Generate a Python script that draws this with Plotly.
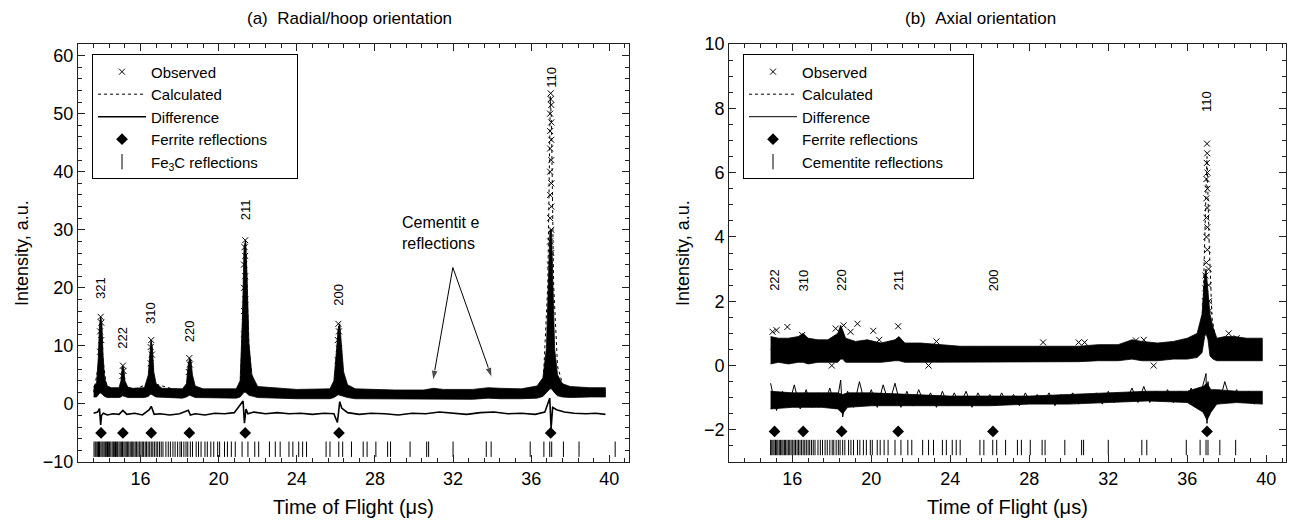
import plotly.graph_objects as go

FONT = "Arial, Liberation Sans, sans-serif"

# ---------------- Panel (a): radial/hoop orientation ----------------
band_x_a = [13.6, 13.75, 13.84, 13.9, 13.96, 14.02, 14.08, 14.16, 14.3, 14.5,
            14.9, 15.0, 15.07, 15.13, 15.2, 15.35, 15.6, 16.2, 16.4, 16.48,
            16.54, 16.6, 16.68, 16.8, 17.1, 18.15, 18.35, 18.45, 18.52, 18.58,
            18.66, 18.8, 19.2, 20.9, 21.1, 21.22, 21.3, 21.38, 21.45, 21.55,
            21.7, 22.0, 24.0, 25.7, 25.9, 26.04, 26.12, 26.2, 26.28, 26.4,
            26.6, 27.0, 29.0, 30.5, 31.0, 31.5, 33.0, 33.8, 34.4, 35.5,
            36.3, 36.6, 36.78, 36.9, 36.96, 37.04, 37.1, 37.2, 37.35, 37.6,
            38.0, 39.0, 39.8]
band_hi_a = [3.0, 3.6, 8.0, 13.5, 15.0, 14.0, 8.5, 4.5, 3.1, 2.8,
             2.8, 4.0, 6.5, 6.3, 4.0, 2.9, 2.7, 2.8, 5.0, 9.5,
             11.0, 10.0, 5.5, 3.5, 2.7, 2.6, 3.5, 7.0, 7.9, 7.5,
             5.0, 3.1, 2.6, 2.6, 4.0, 15.0, 27.0, 28.2, 22.5, 10.5,
             5.0, 3.0, 2.5, 2.6, 4.0, 9.5, 13.0, 13.8, 11.0, 5.5,
             3.3, 2.6, 2.4, 2.4, 2.7, 2.5, 2.5, 2.8, 2.7, 2.6,
             3.1, 4.5, 9.5, 24.0, 30.0, 30.0, 20.0, 9.5, 5.0, 3.5,
             3.0, 2.8, 2.8]
band_lo_a = [1.2, 1.2, 1.5, 1.8, 1.9, 1.8, 1.6, 1.3, 1.1, 1.1,
             1.1, 1.2, 1.4, 1.4, 1.3, 1.1, 1.1, 1.1, 1.3, 1.6,
             1.7, 1.6, 1.4, 1.2, 1.1, 1.0, 1.2, 1.4, 1.5, 1.4,
             1.3, 1.1, 1.0, 1.0, 1.2, 1.6, 2.0, 2.0, 1.8, 1.5,
             1.3, 1.1, 0.9, 0.9, 1.1, 1.4, 1.6, 1.6, 1.5, 1.3,
             1.1, 0.9, 0.8, 0.8, 0.9, 0.8, 0.8, 1.0, 0.9, 0.9,
             1.0, 1.3, 1.9, 2.4, 2.6, 2.6, 2.4, 1.9, 1.4, 1.2,
             1.1, 1.2, 1.2]

obs_x_a = [13.93, 13.99, 13.93, 13.99, 13.96,
           15.07, 15.13, 15.1,
           16.52, 16.58, 16.52, 16.55,
           18.47, 18.53, 18.5,
           21.3, 21.36, 21.3, 21.36, 21.3, 21.36, 21.3, 21.36, 21.33, 21.36,
           26.1, 26.16, 26.1, 26.16, 26.13,
           36.97, 37.03, 36.97, 37.03, 36.97, 37.03, 36.97, 37.03, 36.97,
           37.03, 36.97, 37.03, 36.97, 37.03, 36.97, 37.03, 37.0, 37.0]
obs_y_a = [9.0, 11.0, 12.5, 14.0, 15.0,
           4.8, 5.7, 6.6,
           7.0, 8.5, 9.8, 11.0,
           5.5, 6.8, 7.9,
           12.0, 14.0, 16.0, 18.0, 20.0, 22.0, 24.0, 25.5, 27.0, 28.2,
           7.5, 9.5, 11.0, 12.5, 13.8,
           24.0, 26.0, 28.0, 30.0, 32.0, 34.0, 36.0, 38.0, 40.0,
           42.0, 44.0, 45.5, 47.0, 48.5, 50.0, 51.5, 52.5, 53.5]

calc_x_a = [13.6, 13.84, 13.96, 14.08, 14.3, 14.95, 15.1, 15.25, 16.4, 16.54,
            16.7, 18.35, 18.52, 18.7, 21.1, 21.3, 21.38, 21.55, 21.8, 25.9,
            26.15, 26.35, 26.7, 36.6, 36.85, 36.98, 37.04, 37.15, 37.35, 37.7,
            39.8]
calc_y_a = [2.0, 6.5, 14.7, 7.5, 2.0, 1.9, 6.3, 1.9, 3.5, 10.8,
            3.5, 1.9, 7.7, 2.2, 2.2, 20.5, 27.9, 9.5, 1.9, 2.2,
            13.4, 4.5, 1.7, 2.5, 20.5, 53.0, 48.5, 20.5, 6.5, 2.3,
            2.0]

diff_x_a = [13.6, 13.8, 13.9, 13.96, 14.0, 14.1, 14.3, 14.6, 14.9, 15.1,
            15.3, 15.7, 16.1, 16.45, 16.55, 16.7, 17.0, 17.5, 18.0, 18.45,
            18.55, 18.8, 19.3, 19.8, 20.3, 20.8, 21.25, 21.32, 21.4, 21.5,
            21.8, 22.4, 23.0, 23.6, 24.2, 24.8, 25.4, 25.9, 26.08, 26.2,
            26.3, 26.6, 27.2, 27.8, 28.5, 29.2, 29.9, 30.6, 31.3, 32.0,
            32.7, 33.4, 34.1, 34.8, 35.5, 36.2, 36.7, 36.95, 37.02, 37.1,
            37.3, 37.7, 38.2, 38.8, 39.3, 39.8]
diff_y_a = [-1.6, -1.4, -0.8, -3.6, -2.0, -1.6, -1.9, -1.7, -1.8, -1.1,
            -1.8, -1.6, -1.9, -1.0, -0.4, -1.8, -1.7, -1.9, -1.7, -1.1,
            -1.9, -1.7, -1.9, -1.6, -1.7, -1.5, 0.5, -3.3, -0.9, -1.7,
            -1.4, -1.7, -1.5, -1.7, -1.6, -1.8, -1.6, -1.7, -3.2, 0.4,
            -0.7, -1.5, -1.8, -1.6, -1.7, -1.9, -1.6, -1.7, -1.4, -1.6,
            -1.8, -1.5, -1.4, -1.7, -1.6, -1.8, -1.4, 1.0, -4.2, -0.6,
            -1.0, -1.4, -1.6, -1.7, -1.6, -1.8]

ferrite_x_a = [13.98, 15.1, 16.55, 18.5, 21.36, 26.16, 37.0]
ferrite_y_a = [-5.0, -5.0, -5.0, -5.0, -5.0, -5.0, -5.0]
ferrite_hkl_a = ["321", "222", "310", "220", "211", "200", "110"]
hkl_label_y_a = [20.0, 11.4, 15.7, 12.6, 33.4, 18.8, 56.3]

# Fe3C (cementite) reflection positions, shared by both panels
fe3c_pos = [13.62, 13.68, 13.73, 13.79, 13.85, 13.9, 13.97, 14.03, 14.08, 14.14,
            14.2, 14.25, 14.31, 14.37, 14.42, 14.48, 14.55, 14.61, 14.66, 14.72,
            14.78, 14.83, 14.9, 14.96, 15.02, 15.08, 15.15, 15.21, 15.27, 15.34,
            15.4, 15.47, 15.53, 15.6, 15.66, 15.73, 15.8, 15.87, 15.94, 16.02,
            16.09, 16.16, 16.24, 16.31, 16.39, 16.47, 16.55, 16.63, 16.71, 16.8,
            16.88, 16.97, 17.06, 17.15, 17.3, 17.42, 17.53, 17.66, 17.77, 17.9,
            18.02, 18.1, 18.22, 18.33, 18.42, 18.55, 18.66, 18.85, 18.97, 19.1,
            19.3, 19.42, 19.6, 19.75, 19.95, 20.05, 20.3, 20.45, 20.65, 20.85,
            21.2, 21.5, 21.85, 22.05, 22.6, 22.9, 23.15, 23.6, 23.8, 24.1,
            24.3, 24.5, 25.5, 25.7, 26.15, 26.35, 26.8, 27.4, 27.6, 28.05,
            28.65, 28.8, 29.8, 30.65, 30.75, 32.0, 33.7, 33.95, 35.95, 36.65,
            36.95, 37.05, 37.65, 38.45, 40.3]
fe3c_level_a = -7.8

# call-out in panel (a): text anchor, arrow tail and the two arrow tips
callout_text_a = (29.3, 29.5)
callout_tail_a = (31.99, 23.5)
callout_tips_a = [(30.97, 4.0), (33.99, 4.5)]

# ---------------- Panel (b): axial orientation ----------------
band_x_b = [14.9, 15.3, 15.8, 16.3, 16.55, 16.8, 17.3, 17.8, 18.3, 18.45,
            18.55, 18.7, 19.2, 19.8, 20.5, 21.2, 21.4, 21.7, 22.5, 23.5,
            24.5, 25.5, 26.5, 27.5, 28.5, 29.5, 30.5, 31.5, 32.5, 33.2,
            33.7, 34.5, 35.3, 36.0, 36.5, 36.75, 36.88, 36.95, 37.05, 37.15,
            37.3, 37.5, 37.9, 38.4, 39.0, 39.8]
band_hi_b = [0.9, 0.85, 0.85, 0.9, 1.0, 0.85, 0.8, 0.8, 1.0, 1.25,
             1.1, 0.85, 0.75, 0.8, 0.7, 0.8, 0.9, 0.7, 0.7, 0.65,
             0.6, 0.6, 0.6, 0.6, 0.6, 0.6, 0.6, 0.65, 0.65, 0.8,
             0.75, 0.7, 0.75, 0.85, 1.0, 1.6, 2.8, 3.0, 2.2, 1.6,
             1.2, 0.85, 0.9, 0.9, 0.85, 0.85]
band_lo_b = [0.05, 0.1, 0.05, 0.1, 0.1, 0.05, 0.1, 0.1, 0.1, 0.2,
             0.2, 0.1, 0.1, 0.1, 0.1, 0.15, 0.15, 0.1, 0.1, 0.1,
             0.12, 0.12, 0.12, 0.12, 0.12, 0.12, 0.12, 0.15, 0.15, 0.2,
             0.15, 0.15, 0.2, 0.2, 0.25, 0.4, 0.9, 1.0, 0.8, 0.3,
             0.2, 0.15, 0.15, 0.15, 0.15, 0.15]

obs_x_b = [36.97, 37.02, 36.97, 37.02, 36.97, 37.02, 36.97, 37.02, 36.97, 37.02,
           36.99, 37.01, 37.0, 37.08, 37.08, 37.1, 37.12, 36.9, 36.91, 36.92,
           15.0, 15.2, 15.75, 16.5, 18.2, 18.6, 18.95, 19.3, 20.1, 21.36,
           20.4, 23.3, 28.7, 30.5, 30.8, 33.4, 33.8, 38.1, 38.5, 34.3,
           22.9, 18.0]
obs_y_b = [3.2, 3.6, 4.0, 4.3, 4.6, 4.9, 5.2, 5.5, 5.8, 6.0,
           6.3, 6.6, 6.9, 3.0, 2.5, 2.0, 1.7, 2.0, 2.4, 2.8,
           1.05, 1.1, 1.2, 0.95, 1.15, 1.25, 1.05, 1.3, 1.08, 1.22,
           0.8, 0.75, 0.72, 0.72, 0.72, 0.78, 0.8, 1.0, 0.85, 0.0,
           0.0, 0.0]

calc_x_b = [14.9, 18.5, 21.36, 26.0, 30.0, 34.0, 36.5, 36.8, 36.95, 37.0,
            37.1, 37.25, 37.5, 39.8]
calc_y_b = [0.5, 0.6, 0.5, 0.4, 0.35, 0.45, 0.55, 1.8, 5.5, 6.5,
            4.0, 1.5, 0.6, 0.5]

diffband_x_b = [14.9, 16.0, 17.5, 18.3, 18.55, 18.8, 20.0, 22.0, 24.0, 26.0,
                28.0, 30.0, 32.0, 34.0, 36.0, 36.8, 37.0, 37.2, 37.5, 38.5,
                39.8]
diffband_lo_b = [-1.35, -1.3, -1.3, -1.35, -1.5, -1.3, -1.25, -1.25, -1.25, -1.25,
                 -1.2, -1.2, -1.15, -1.1, -1.15, -1.45, -1.7, -1.45, -1.2, -1.15,
                 -1.2]
diffband_hi_b = [-0.8, -0.85, -0.85, -0.85, -0.9, -0.85, -0.85, -0.9, -0.95, -0.95,
                 -0.95, -0.9, -0.85, -0.8, -0.8, -0.65, -0.55, -0.75, -0.75, -0.8,
                 -0.8]

diff_x_b = [14.9, 15.2, 15.5, 15.8, 16.1, 16.4, 16.7, 17.0, 17.3, 17.6,
            17.9, 18.2, 18.45, 18.55, 18.8, 19.1, 19.4, 19.7, 20.0, 20.3,
            20.6, 20.9, 21.2, 21.5, 21.8, 22.1, 22.4, 22.7, 23.0, 23.3,
            23.6, 23.9, 24.2, 24.5, 24.8, 25.1, 25.4, 25.7, 26.0, 26.3,
            26.6, 26.9, 27.2, 27.5, 27.8, 28.1, 28.4, 28.7, 29.0, 29.3,
            29.6, 29.9, 30.2, 30.5, 30.8, 31.1, 31.4, 31.7, 32.0, 32.3,
            32.6, 32.9, 33.2, 33.5, 33.8, 34.1, 34.4, 34.7, 35.0, 35.3,
            35.6, 35.9, 36.2, 36.5, 36.8, 36.95, 37.0, 37.05, 37.15, 37.3,
            37.6, 37.9, 38.2, 38.5, 38.8, 39.1, 39.4, 39.7]
diff_y_b = [-0.55, -1.4, -0.8, -1.3, -0.6, -1.35, -0.75, -1.3, -0.85, -1.25,
            -0.7, -1.35, -0.45, -1.6, -0.8, -1.3, -0.5, -1.25, -0.75, -1.3,
            -0.6, -1.2, -0.55, -1.3, -0.8, -1.25, -0.75, -1.2, -0.85, -1.3,
            -0.8, -1.25, -0.85, -1.2, -0.8, -1.3, -0.85, -1.2, -0.9, -1.25,
            -0.85, -1.2, -0.9, -1.25, -0.85, -1.2, -0.9, -1.2, -0.85, -1.25,
            -0.9, -1.15, -0.85, -1.2, -0.9, -1.15, -0.85, -1.2, -0.8, -1.15,
            -0.85, -1.1, -0.7, -1.15, -0.65, -1.15, -0.8, -1.1, -0.75, -1.15,
            -0.8, -1.1, -0.7, -1.2, -0.6, -0.25, -1.8, -0.5, -1.4, -0.8,
            -1.2, -0.5, -1.1, -0.75, -1.15, -0.8, -1.2, -0.85]

ferrite_x_b = [15.1, 16.55, 18.5, 21.36, 26.16, 37.0]
ferrite_y_b = [-2.05, -2.05, -2.05, -2.05, -2.05, -2.05]
ferrite_hkl_b = ["222", "310", "220", "211", "200", "110"]
hkl_label_y_b = [2.65, 2.65, 2.65, 2.65, 2.65, 8.2]
fe3c_level_b = -2.55
data_range_b = (14.85, 39.9)

# ---------------- Figure ----------------
fig = go.Figure()
BLACK = "black"
PAD = "\u00a0" * 6


def add_panel(xa, ya, leg, band_x, band_lo, band_hi, ox, oy, cx, cy, dx, dy,
              fx, fy, tx, ty, tick_label, diff_width, extra_band=None):
    fig.add_trace(go.Scatter(
        x=band_x + band_x[::-1], y=band_hi + band_lo[::-1], fill="toself",
        fillcolor=BLACK, line=dict(color=BLACK, width=0.8), mode="lines",
        showlegend=False, hoverinfo="skip", xaxis=xa, yaxis=ya))
    fig.add_trace(go.Scatter(
        x=ox, y=oy, mode="markers", name="Observed", legend=leg,
        marker=dict(symbol="x-thin", size=6, color=BLACK,
                    line=dict(color=BLACK, width=1)),
        xaxis=xa, yaxis=ya))
    fig.add_trace(go.Scatter(
        x=cx, y=cy, mode="lines", name="Calculated", legend=leg,
        line=dict(color=BLACK, width=1, dash="dot"), xaxis=xa, yaxis=ya))
    if extra_band is not None:
        bx, blo, bhi = extra_band
        fig.add_trace(go.Scatter(
            x=bx + bx[::-1], y=bhi + blo[::-1], fill="toself",
            fillcolor=BLACK, line=dict(color=BLACK, width=0.8), mode="lines",
            showlegend=False, hoverinfo="skip", xaxis=xa, yaxis=ya))
    fig.add_trace(go.Scatter(
        x=dx, y=dy, mode="lines", name="Difference", legend=leg,
        line=dict(color=BLACK, width=diff_width), xaxis=xa, yaxis=ya))
    fig.add_trace(go.Scatter(
        x=fx, y=fy, mode="markers", name="Ferrite reflections" + PAD, legend=leg,
        marker=dict(symbol="diamond", size=9, color=BLACK), xaxis=xa, yaxis=ya))
    fig.add_trace(go.Scatter(
        x=tx, y=ty, mode="markers", name=tick_label, legend=leg,
        marker=dict(symbol="line-ns-open", size=11, color=BLACK,
                    line=dict(color=BLACK, width=1)), xaxis=xa, yaxis=ya))


add_panel("x", "y", "legend", band_x_a, band_lo_a, band_hi_a, obs_x_a, obs_y_a,
          calc_x_a, calc_y_a, diff_x_a, diff_y_a, ferrite_x_a, ferrite_y_a,
          fe3c_pos, [fe3c_level_a] * len(fe3c_pos), "Fe<sub>3</sub>C reflections",
          1.6)

fe3c_b = [p for p in fe3c_pos if data_range_b[0] <= p <= data_range_b[1]]
add_panel("x2", "y2", "legend2", band_x_b, band_lo_b, band_hi_b, obs_x_b, obs_y_b,
          calc_x_b, calc_y_b, diff_x_b, diff_y_b, ferrite_x_b, ferrite_y_b,
          fe3c_b, [fe3c_level_b] * len(fe3c_b), "Cementite reflections" + PAD,
          1.0, extra_band=(diffband_x_b, diffband_lo_b, diffband_hi_b))

# call-out arrows (line + oriented arrow-head marker)
for tip in callout_tips_a:
    fig.add_trace(go.Scatter(
        x=[callout_tail_a[0], tip[0]], y=[callout_tail_a[1], tip[1]],
        mode="lines+markers", showlegend=False, hoverinfo="skip",
        line=dict(color=BLACK, width=1),
        marker=dict(symbol=["circle", "arrow"], size=[0.1, 11], color=BLACK,
                    angleref="previous", standoff=0),
        xaxis="x", yaxis="y"))

annotations = []
for hx, hy, lab in zip(ferrite_x_a, hkl_label_y_a, ferrite_hkl_a):
    annotations.append(dict(x=hx, y=hy, xref="x", yref="y", text=lab,
                            textangle=-90, showarrow=False,
                            font=dict(size=13, family=FONT, color=BLACK)))
for hx, hy, lab in zip(ferrite_x_b, hkl_label_y_b, ferrite_hkl_b):
    annotations.append(dict(x=hx, y=hy, xref="x2", yref="y2", text=lab,
                            textangle=-90, showarrow=False,
                            font=dict(size=13, family=FONT, color=BLACK)))

annotations.append(dict(x=callout_text_a[0], y=callout_text_a[1], xref="x", yref="y",
                        xanchor="left", yanchor="middle",
                        text="Cementit e<br>reflections", align="left",
                        showarrow=False, font=dict(size=16, family=FONT, color=BLACK)))

annotations += [
    dict(x=0.225, y=1.062, xref="paper", yref="paper", xanchor="center",
         yanchor="middle", text="(a)\u00a0\u00a0Radial/hoop orientation",
         showarrow=False, font=dict(size=17, family=FONT, color=BLACK)),
    dict(x=0.7467, y=1.062, xref="paper", yref="paper", xanchor="center",
         yanchor="middle", text="(b)\u00a0\u00a0Axial orientation",
         showarrow=False, font=dict(size=17, family=FONT, color=BLACK)),
    dict(x=-0.0464, y=0.5, xref="paper", yref="paper", xanchor="center",
         yanchor="middle", text="Intensity, a.u.", textangle=-90,
         showarrow=False, font=dict(size=18, family=FONT, color=BLACK)),
    dict(x=0.5008, y=0.5, xref="paper", yref="paper", xanchor="center",
         yanchor="middle", text="Intensity, a.u.", textangle=-90,
         showarrow=False, font=dict(size=18, family=FONT, color=BLACK)),
    dict(x=0.228, y=-0.108, xref="paper", yref="paper", xanchor="center",
         yanchor="middle", text="Time of Flight (\u03bcs)", showarrow=False,
         font=dict(size=20, family=FONT, color=BLACK)),
    dict(x=0.7695, y=-0.108, xref="paper", yref="paper", xanchor="center",
         yanchor="middle", text="Time of Flight (\u03bcs)", showarrow=False,
         font=dict(size=20, family=FONT, color=BLACK)),
]

axis_common = dict(showline=True, linecolor="#222", linewidth=1, mirror="allticks",
                   ticks="inside", ticklen=7, tickcolor="#222", showgrid=False,
                   zeroline=False, tickfont=dict(size=18, family=FONT, color=BLACK))

legend_common = dict(xanchor="left", yanchor="top", bordercolor=BLACK, borderwidth=1,
                     bgcolor="white", font=dict(size=15, family=FONT, color=BLACK),
                     tracegroupgap=0, itemsizing="trace", itemwidth=48)

fig.update_layout(
    width=1292, height=523,
    margin=dict(l=78, r=6, t=44, b=61),
    paper_bgcolor="white", plot_bgcolor="white",
    font=dict(family=FONT, color=BLACK),
    xaxis=dict(domain=[0, 0.456], range=[12.8, 41], tick0=0, dtick=4,
               minor=dict(dtick=0.8, ticklen=4, ticks="inside", tickcolor="#222"),
               anchor="y", **axis_common),
    yaxis=dict(domain=[0, 1], range=[-10, 62], tick0=0, dtick=10,
               minor=dict(dtick=2, ticklen=4, ticks="inside", tickcolor="#222"),
               anchor="x", **axis_common),
    xaxis2=dict(domain=[0.539, 1.0], range=[12.8, 41], tick0=0, dtick=4,
                minor=dict(dtick=0.8, ticklen=4, ticks="inside", tickcolor="#222"),
                anchor="y2", **axis_common),
    yaxis2=dict(domain=[0, 1], range=[-3, 10], tick0=0, dtick=2,
                minor=dict(dtick=0.5, ticklen=4, ticks="inside", tickcolor="#222"),
                anchor="x2", **axis_common),
    legend=dict(x=0.0116, y=0.975, **legend_common),
    legend2=dict(x=0.5505, y=0.975, **legend_common),
    annotations=annotations,
    showlegend=True,
)

fig.write_html("out.html", config={"displayModeBar": False},
               post_script="document.body.style.margin='0px';")
